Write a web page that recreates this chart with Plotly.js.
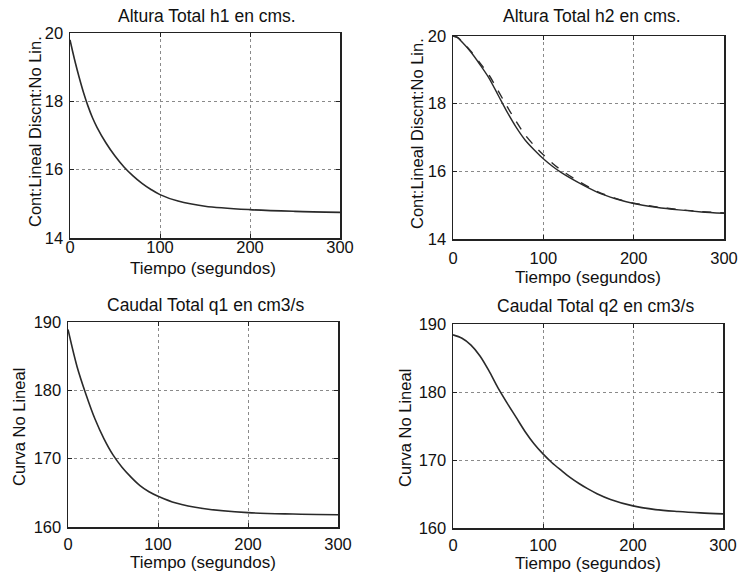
<!DOCTYPE html>
<html>
<head>
<meta charset="utf-8">
<script src="https://cdn.plot.ly/plotly-3.0.1.min.js"></script>
<style>html,body{margin:0;padding:0;background:#fff;}#chart{width:739px;height:576px;}</style>
</head>
<body>
<div id="chart"></div>
<script>
// ---- data ----
const tH1 = [0, 3, 6, 10, 15, 20, 25, 30, 40, 50, 60, 70, 80, 90, 100, 120, 150, 200, 250, 300];
const h1 = [19.8, 19.45, 19.12, 18.72, 18.26, 17.86, 17.52, 17.24, 16.78, 16.4, 16.08, 15.82, 15.6, 15.42, 15.27, 15.08, 14.93, 14.83, 14.78, 14.75];

const tH2 = [0, 5, 10, 20, 30, 40, 50, 60, 70, 80, 90, 100, 110, 120, 140, 160, 180, 200, 225, 250, 275, 300];
const h2Solid = [20.0, 19.95, 19.82, 19.52, 19.15, 18.75, 18.25, 17.75, 17.3, 16.92, 16.63, 16.37, 16.15, 15.96, 15.65, 15.38, 15.19, 15.05, 14.94, 14.86, 14.8, 14.76];
const h2Dash = [20.0, 19.96, 19.84, 19.54, 19.2, 18.84, 18.38, 17.91, 17.47, 17.07, 16.76, 16.49, 16.24, 16.03, 15.69, 15.4, 15.2, 15.06, 14.95, 14.87, 14.81, 14.77];

const tQ1 = [0, 10, 20, 30, 40, 50, 60, 70, 80, 90, 100, 120, 150, 200, 250, 300];
const q1 = [188.9, 183.5, 179.4, 175.8, 172.9, 170.55, 168.75, 167.3, 166.05, 165.15, 164.5, 163.5, 162.7, 162.1, 161.9, 161.8];

const tQ2 = [0, 10, 20, 30, 40, 50, 60, 70, 80, 90, 100, 110, 120, 130, 140, 150, 160, 175, 200, 225, 250, 275, 300];
const q2 = [188.4, 187.9, 186.9, 185.3, 183.1, 180.6, 178.4, 176.3, 174.2, 172.4, 170.9, 169.6, 168.5, 167.45, 166.55, 165.75, 165.05, 164.2, 163.25, 162.7, 162.42, 162.22, 162.08];

const xTicks = [0, 100, 200, 300];
const hTicks = [14, 16, 18, 20];
const qTicks = [160, 170, 180, 190];

const titles = ["Altura Total h1 en cms.", "Altura Total h2 en cms.", "Caudal Total q1 en cm3/s", "Caudal Total q2 en cm3/s"];
const xTitle = "Tiempo (segundos)";
const yTitleH = "Cont:Lineal Discnt:No Lin.";
const yTitleQ = "Curva No Lineal";

// ---- chart ----
const W = 739, H = 576;
const FONT = "Liberation Sans, Arial, Helvetica, sans-serif";
const px = x => x / W;
const py = y => 1 - y / H;

const lineStyle = {color: "#2a2a2a", width: 1.6, shape: "spline", smoothing: 0.9};
const traces = [
  {x: tH1, y: h1, xaxis: "x", yaxis: "y", mode: "lines", line: lineStyle},
  {x: tH2, y: h2Solid, xaxis: "x2", yaxis: "y2", mode: "lines", line: {color: "#2a2a2a", width: 1.4, shape: "spline", smoothing: 0.8}},
  {x: tH2, y: h2Dash, xaxis: "x2", yaxis: "y2", mode: "lines", line: {color: "#2a2a2a", width: 1.4, dash: "dash", shape: "spline", smoothing: 0.8}},
  {x: tQ1, y: q1, xaxis: "x3", yaxis: "y3", mode: "lines", line: lineStyle},
  {x: tQ2, y: q2, xaxis: "x4", yaxis: "y4", mode: "lines", line: lineStyle}
];

function xa(l, r, anchor, standoff) {
  return {
    domain: [px(l), px(r)], anchor: anchor, range: [0, 300], tickvals: xTicks,
    ticks: "inside", ticklen: 4, tickcolor: "#222", mirror: "ticks",
    showline: true, linecolor: "#222", linewidth: 1.5,
    showgrid: true, gridcolor: "#8a8a8a", griddash: "dot", gridwidth: 1,
    zeroline: false, ticklabelstandoff: standoff,
    tickfont: {family: FONT, size: 16.5, color: "#111"}
  };
}
function ya(t, b, anchor, range, vals) {
  return {
    domain: [py(b), py(t)], anchor: anchor, range: range, tickvals: vals,
    ticks: "inside", ticklen: 4, tickcolor: "#222", mirror: "ticks",
    showline: true, linecolor: "#222", linewidth: 1.5,
    showgrid: true, gridcolor: "#8a8a8a", griddash: "dot", gridwidth: 1,
    zeroline: false, ticklabelstandoff: 2,
    tickfont: {family: FONT, size: 16.5, color: "#111"}
  };
}

function ann(text, x, y, size, angle) {
  return {text: text, x: px(x), y: py(y), xref: "paper", yref: "paper",
    xanchor: "center", yanchor: "middle", showarrow: false, textangle: angle || 0,
    font: {family: FONT, size: size, color: "#111"}};
}

const layout = {
  width: W, height: H, margin: {l: 0, r: 0, t: 0, b: 0},
  paper_bgcolor: "#fff", plot_bgcolor: "#fff", showlegend: false,
  xaxis: xa(70, 340, "y", -6),
  yaxis: ya(33, 238, "x", [14, 20], hTicks),
  xaxis2: xa(453, 724, "y2", 4),
  yaxis2: ya(36, 239, "x2", [14, 20], hTicks),
  xaxis3: xa(68, 338, "y3", 2),
  yaxis3: ya(322, 527, "x3", [160, 190], qTicks),
  xaxis4: xa(453, 723, "y4", 2),
  yaxis4: ya(324, 528, "x4", [160, 190], qTicks),
  annotations: [
    ann(titles[0], 207, 16, 17.5),
    ann(titles[1], 592, 16, 17.5),
    ann(titles[2], 205, 305, 17.5),
    ann(titles[3], 595, 306, 17.5),
    ann(xTitle, 203, 268, 17),
    ann(xTitle, 588, 277, 17),
    ann(xTitle, 203, 562, 17),
    ann(xTitle, 588, 563, 17),
    ann(yTitleH, 35, 132, 16.5, -90),
    ann(yTitleH, 417, 134, 16.5, -90),
    ann(yTitleQ, 19, 427, 16.5, -90),
    ann(yTitleQ, 405, 428, 16.5, -90)
  ]
};

Plotly.newPlot("chart", traces, layout, {displayModeBar: false, staticPlot: true});
</script>
</body>
</html>
